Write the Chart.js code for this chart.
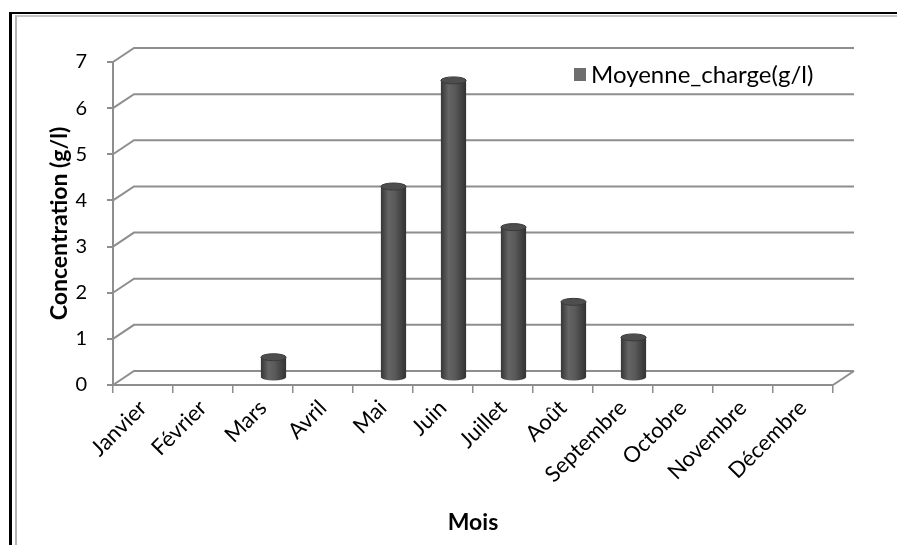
<!DOCTYPE html>
<html lang="fr">
<head>
<meta charset="utf-8">
<title>Moyenne charge</title>
<script src="https://cdn.jsdelivr.net/npm/chart.js@4.4.1/dist/chart.umd.min.js"></script>
<style>
  body { margin: 0; background: #fff; }
  #cadre { position: absolute; left: 9px; top: 12px; width: 900px; height: 545px;
           border-left: 3px solid #000; border-top: 2px solid #000; }
  #cadre2 { position: absolute; left: 3px; top: 1px; width: 900px; height: 545px;
            border-left: 2px solid #b4b4b4; border-top: 2px solid #c4c4c4; }
  canvas { position: absolute; left: 0; top: 0; }
</style>
</head>
<body>
<div id="cadre"><div id="cadre2"></div></div>
<canvas id="graphique" width="897" height="545"></canvas>
<script>
// Données
const mois = ['Janvier', 'Février', 'Mars', 'Avril', 'Mai', 'Juin', 'Juillet',
              'Août', 'Septembre', 'Octobre', 'Novembre', 'Décembre'];
const moyenneCharge = [null, null, 0.45, null, 4.15, 6.45, 3.27, 1.65, 0.88, null, null, null];
const graduations = [0, 1, 2, 3, 4, 5, 6, 7];

// décalage de la profondeur (effet 3D)
const PROF_X = 21, PROF_Y = -14;
const GRIS = '#8e8e8e';

Chart.defaults.font.family = 'Lato';
Chart.defaults.color = '#000';

// dégradé horizontal d'un cylindre
function degradeCylindre(ctx, x, w) {
    const g = ctx.createLinearGradient(x - w / 2, 0, x + w / 2, 0);
    g.addColorStop(0, '#363636');
    g.addColorStop(0.3, '#646464');
    g.addColorStop(0.55, '#5a5a5a');
    g.addColorStop(1, '#323232');
    return g;
}

// Plugin : fond 3D (murs, sol), cylindres et légende
const effet3d = {
    id: 'effet3d',
    beforeDatasetsDraw(chart) {
        const { ctx, chartArea: a, scales: { y } } = chart;
        ctx.save();
        ctx.strokeStyle = GRIS;
        ctx.lineWidth = 2;
        y.ticks.forEach(t => {
            const py = y.getPixelForValue(t.value);
            ctx.beginPath();
            ctx.moveTo(a.left, py);
            ctx.lineTo(a.left + PROF_X, py + PROF_Y);
            ctx.lineTo(a.right + PROF_X, py + PROF_Y);
            ctx.stroke();
        });
        // bord droit du sol
        ctx.beginPath();
        ctx.moveTo(a.right, a.bottom);
        ctx.lineTo(a.right + PROF_X, a.bottom + PROF_Y);
        ctx.stroke();
        ctx.restore();

        // les barres sont dessinées à mi-profondeur
        ctx.save();
        ctx.translate(PROF_X / 2, PROF_Y / 2);
    },
    afterDatasetsDraw(chart) {
        const ctx = chart.ctx;
        const meta = chart.getDatasetMeta(0);
        meta.data.forEach((barre, i) => {
            if (moyenneCharge[i] == null) return;
            const { x, y, base, width } = barre.getProps(['x', 'y', 'base', 'width'], true);
            const rx = width / 2, ry = 3.5;
            ctx.fillStyle = degradeCylindre(ctx, x, width);
            ctx.beginPath();
            ctx.ellipse(x, base, rx, ry, 0, 0, Math.PI);
            ctx.fill();
            ctx.fillStyle = '#4e4e4e';
            ctx.beginPath();
            ctx.ellipse(x, y, rx, ry, 0, 0, Math.PI * 2);
            ctx.fill();
            ctx.strokeStyle = '#3a3a3a';
            ctx.lineWidth = 1;
            ctx.stroke();
        });
        ctx.restore();
    },
    afterDraw(chart) {
        const { ctx, chartArea: a } = chart;
        const ds = chart.data.datasets[0];
        const lx = a.right - 259, ly = a.top + 12;
        ctx.save();
        ctx.fillStyle = '#6e6e6e';
        ctx.fillRect(lx, ly - 6, 12, 13);
        ctx.fillStyle = '#000';
        ctx.font = '24px Lato';
        ctx.textBaseline = 'middle';
        ctx.fillText(ds.label, lx + 17, ly + 1);
        ctx.restore();
    }
};

const graphique = new Chart(document.getElementById('graphique').getContext('2d'), {
    type: 'bar',
    data: {
        labels: mois,
        datasets: [{
            label: 'Moyenne_charge(g/l)',
            data: moyenneCharge,
            backgroundColor: ctx => {
                const xs = ctx.chart.scales.x;
                const cx = xs ? xs.getPixelForValue(ctx.dataIndex) : NaN;
                if (!Number.isFinite(cx) || !Number.isFinite(xs.width)) return '#505050';
                const w = xs.width / mois.length * 0.42;
                return degradeCylindre(ctx.chart.ctx, cx, w);
            },
            borderWidth: 0,
            categoryPercentage: 1,
            barPercentage: 0.42,
            clip: false
        }]
    },
    options: {
        responsive: false,
        animation: false,
        layout: { padding: { left: 16, top: 62, right: 64, bottom: 0 } },
        plugins: {
            legend: { display: false },
            tooltip: { enabled: false }
        },
        scales: {
            x: {
                grid: { drawOnChartArea: false, tickLength: 8, color: GRIS, lineWidth: 1.5 },
                border: { color: GRIS, width: 2 },
                ticks: { minRotation: 45, maxRotation: 45, padding: 2, font: { size: 22 } },
                title: { display: true, text: 'Mois', font: { size: 23, weight: 'bold' },
                         padding: { top: 0, bottom: 9 } },
                afterFit: s => { s.height = 160; }
            },
            y: {
                min: 0,
                max: 7,
                afterBuildTicks: s => { s.ticks = graduations.map(v => ({ value: v })); },
                grid: { drawOnChartArea: false, tickLength: 6, color: GRIS, lineWidth: 2 },
                border: { color: GRIS, width: 2 },
                ticks: { padding: 20, font: { size: 20 } },
                title: { display: true, text: 'Concentration (g/l)', font: { size: 23, weight: 'bold' },
                         padding: { top: 30, bottom: 0 } },
                afterFit: s => { s.width = 97; }
            }
        }
    },
    plugins: [effet3d]
});
</script>
</body>
</html>
